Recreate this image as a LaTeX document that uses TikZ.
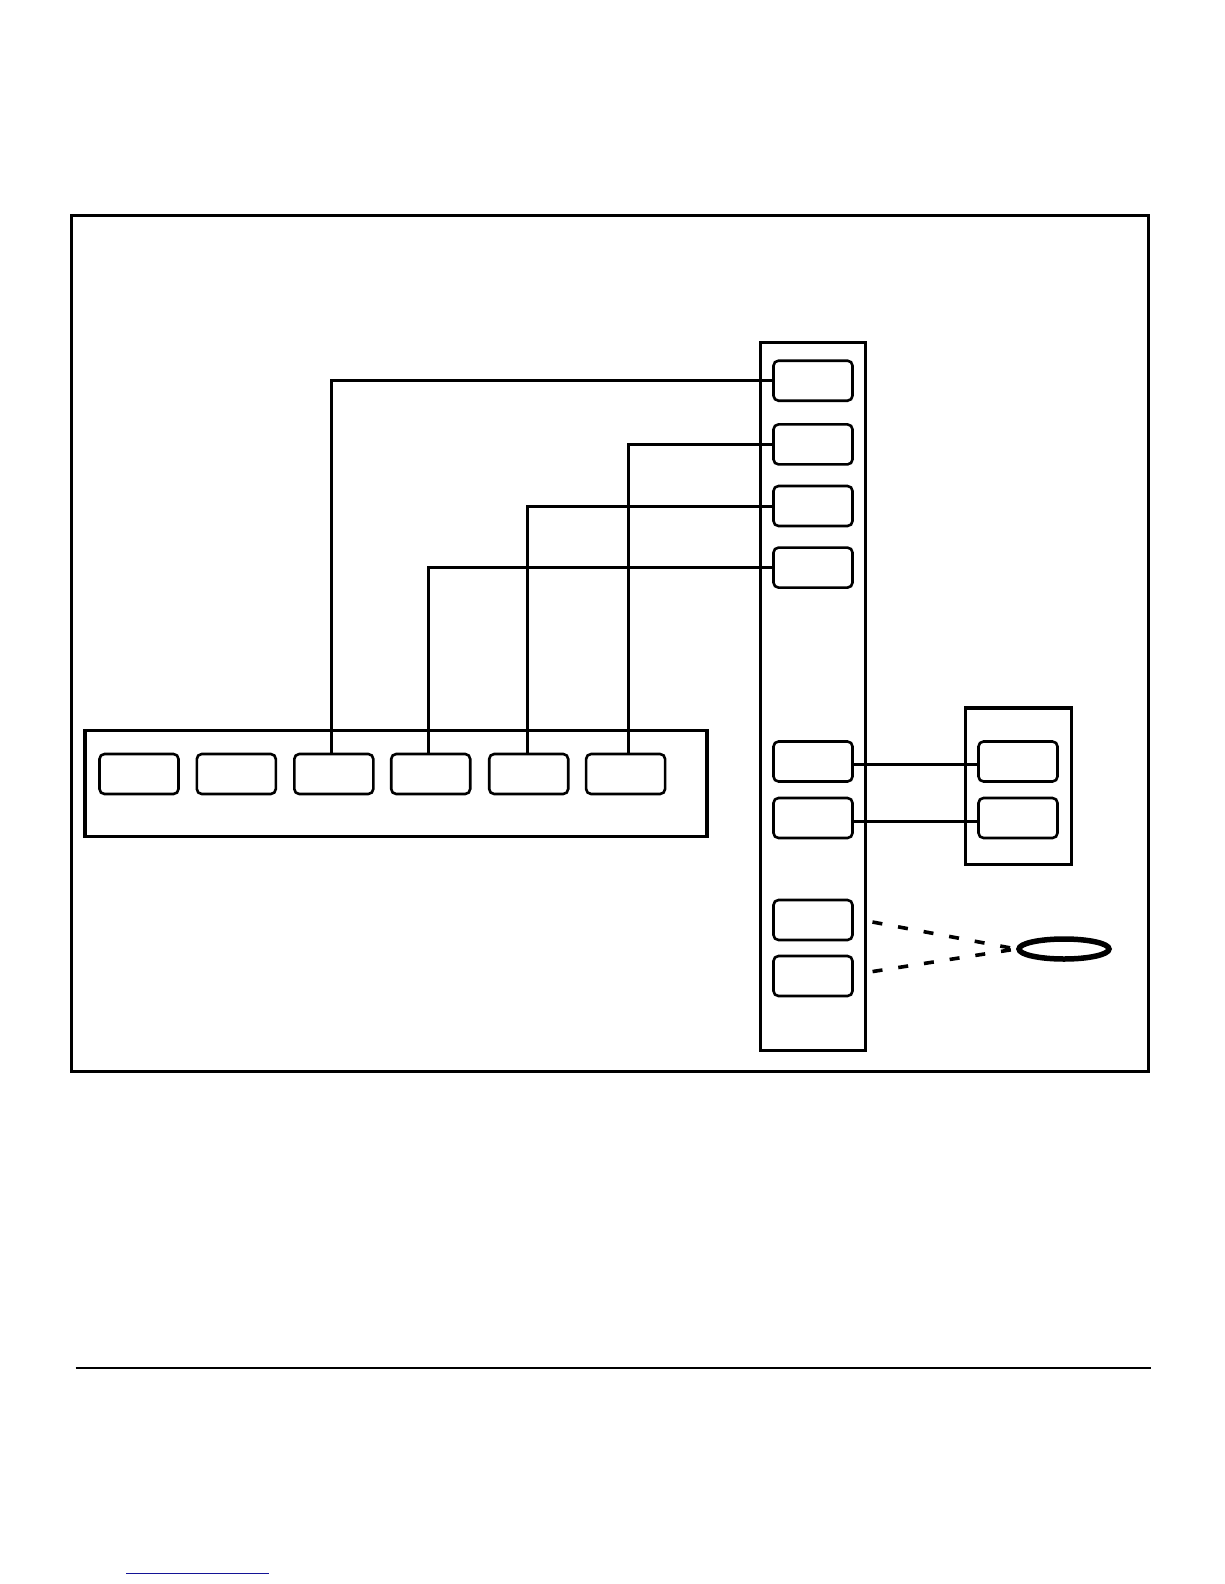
\documentclass[tikz,border=0pt]{standalone}
\usetikzlibrary{shapes.geometric}
\begin{document}
\begin{tikzpicture}[x=1pt,y=-1pt,
  panel/.style={draw, line width=3.2pt, inner sep=0pt, outer sep=0pt, anchor=north west},
  slot/.style={draw, rounded corners=5pt, line width=2.6pt, minimum width=79pt, minimum height=40pt, inner sep=0pt},
  wire/.style={line width=3pt},
  dashwire/.style={line width=3.6pt, dash pattern=on 10pt off 16pt},
  ring/.style={draw, ellipse, line width=5.5pt, minimum width=90pt, minimum height=20pt, inner sep=0pt}]
\useasboundingbox (0,0) rectangle (1224,1584);
% outer frame
\node[panel, minimum width=1076.6pt, minimum height=856.4pt] (frame) at (71.7,215.1) {};
% bottom strip
\node[panel, minimum width=622pt, minimum height=106pt] (strip) at (85,730.2) {};
% right tall panel
\node[panel, minimum width=105pt, minimum height=708pt] (tall) at (760.5,342.4) {};
% small right panel
\node[panel, minimum width=106pt, minimum height=156.5pt] (small) at (965.5,708) {};
% strip slots
\node[slot] (s1) at (139,774) {};
\node[slot] (s2) at (236.3,774) {};
\node[slot] (s3) at (333.8,774) {};
\node[slot] (s4) at (430.7,774) {};
\node[slot] (s5) at (528.7,774) {};
\node[slot] (s6) at (625.6,774) {};
% tall panel slots
\node[slot] (r1) at (813,380.7) {};
\node[slot] (r2) at (813,444.4) {};
\node[slot] (r3) at (813,506) {};
\node[slot] (r4) at (813,567.6) {};
\node[slot] (r5) at (813,761.5) {};
\node[slot] (r6) at (813,818) {};
\node[slot] (r7) at (813,920) {};
\node[slot] (r8) at (813,976) {};
% small panel slots
\node[slot] (q1) at (1018,761.5) {};
\node[slot] (q2) at (1018,818) {};
% ring
\node[ring] (loop) at (1064,949) {};
% connectors
\draw[wire] ([xshift=-2pt]s3.north) |- (r1.west);
\draw[wire] ([xshift=2.5pt]s6.north) |- (r2.west);
\draw[wire] ([xshift=-1.5pt]s5.north) |- (r3.west);
\draw[wire] ([xshift=-2.5pt]s4.north) |- (r4.west);
\draw[wire] ([yshift=-3pt]r5.east) -- ([yshift=-3pt]q1.west);
\draw[wire] ([yshift=-3pt]r6.east) -- ([yshift=-3pt]q2.west);
\draw[dashwire, shorten <=19pt] ([yshift=1.5pt]r7.east) -- (loop.west);
\draw[dashwire, shorten <=19pt] ([yshift=1.5pt]r8.east) -- (loop.west);
% footer rule and link line
\coordinate (fl) at (75.7,1368.4);
\coordinate (fr) at (1151.3,1368.4);
\draw[line width=2pt] (fl) -- (fr);
\definecolor{linkblue}{RGB}{20,20,150}
\coordinate (bl) at (126,1573.4);
\coordinate (br) at (268.6,1573.4);
\draw[linkblue, line width=1.5pt] (bl) -- (br);
\end{tikzpicture}
\end{document}
